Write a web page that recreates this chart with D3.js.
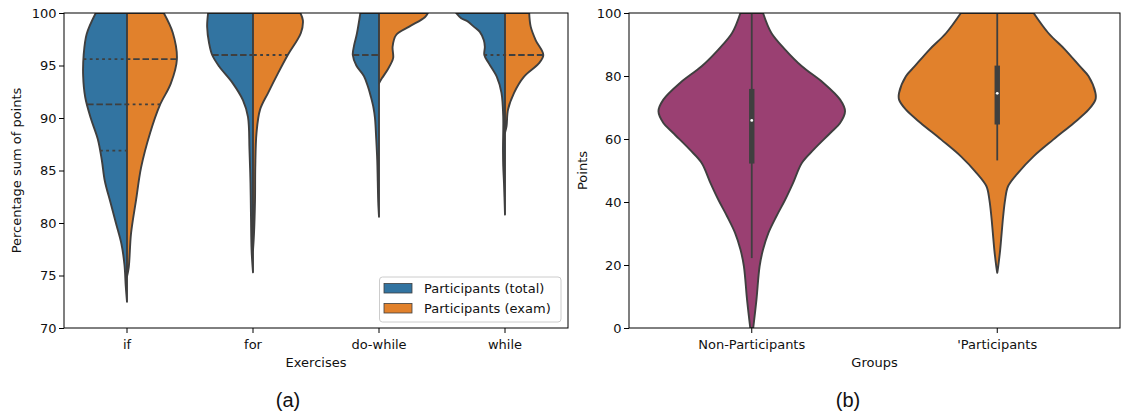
<!DOCTYPE html>
<html>
<head>
<meta charset="utf-8">
<script src="https://cdn.jsdelivr.net/npm/d3@7"></script>
<style>
  html, body { margin: 0; padding: 0; background: #fff; }
  svg { display: block; }
  text { font-family: "DejaVu Sans", sans-serif; fill: #111; }
</style>
</head>
<body>
<svg id="chart" width="1136" height="413"></svg>
<script>
// ---------------- DATA ----------------
const exercises = ["if", "for", "do-while", "while"];
const seriesNames = ["Participants (total)", "Participants (exam)"];
const leftTicks = [70, 75, 80, 85, 90, 95, 100];

// density profiles [value, relative density]
const ifTotal = [[100,0.62],[98,0.80],[96,0.86],[94,0.87],[92,0.83],[90,0.72],[88,0.58],[86,0.50],[84,0.44],[82,0.33],[80,0.22],[78,0.11],[76,0.05],[74,0.025],[72.5,0]];
const ifExam = [[100,0.73],[98.1,0.91],[95.6,0.99],[93.3,0.87],[91.2,0.65],[88.6,0.46],[85.3,0.28],[82.2,0.18],[79.0,0.08],[75.8,0.035],[74.9,0]];
const forTotal = [[100,0.89],[98.7,0.91],[97.1,0.87],[96.0,0.81],[94.9,0.67],[93.3,0.40],[91.7,0.20],[90.1,0.10],[87.0,0.07],[83.8,0.05],[80.6,0.04],[77.4,0.028],[75.3,0]];
const forExam = [[100,0.94],[99.3,0.99],[98.1,0.95],[96.0,0.69],[94.3,0.50],[92.4,0.30],[90.8,0.14],[88.6,0.07],[85.3,0.045],[82.2,0.04],[79.0,0.02],[77.4,0]];
const doWhileTotal = [[100,0.37],[98,0.44],[97,0.49],[96,0.52],[95,0.45],[94,0.30],[93,0.22],[92,0.16],[91,0.11],[90,0.08],[88,0.055],[86,0.035],[84,0.025],[82,0.015],[80.6,0]];
const doWhileExam = [[100,0.97],[99.6,0.91],[98.7,0.60],[97.9,0.34],[96.8,0.27],[95.7,0.28],[94.6,0.17],[93.8,0.06],[93.3,0]];
const whileTotal = [[100,0.97],[99.5,0.87],[99.2,0.74],[98.7,0.62],[98.2,0.50],[97.4,0.42],[96.8,0.40],[96.0,0.41],[95.2,0.32],[93.9,0.16],[92.4,0.07],[90.1,0.035],[87.0,0.04],[85.4,0.035],[83.8,0.02],[80.8,0]];
const whileExam = [[100,0.48],[98.7,0.51],[97.4,0.61],[96.0,0.76],[95.2,0.67],[93.9,0.37],[92.4,0.18],[90.8,0.06],[89.2,0.03],[88.6,0]];

const totalDensities = [ifTotal, forTotal, doWhileTotal, whileTotal];
const examDensities = [ifExam, forExam, doWhileExam, whileExam];
// quartiles [q1, median, q3]
const totalQuartiles = [[86.9,91.3,95.6],[96,96,100],[96,96,100],[96,100,100]];
const examQuartiles = [[91.3,95.6,100],[96,100,100],[100,100,100],[96,96,100]];

const groups = ["Non-Participants", "'Participants"];
const rightTicks = [0, 20, 40, 60, 80, 100];
const nonPartDensity = [[100,0.115],[93.65,0.20],[88.4,0.34],[83.1,0.51],[77.8,0.73],[72.5,0.90],[68.8,0.95],[65.1,0.90],[61.9,0.80],[56.6,0.63],[52.4,0.51],[46.0,0.42],[40.7,0.34],[35.4,0.25],[30.2,0.17],[24.9,0.115],[19.6,0.08],[9.0,0.048],[0,0.015]];
const partDensity = [[100,0.37],[93.65,0.52],[88.4,0.69],[83.1,0.84],[79.9,0.93],[74.6,1.0],[72.5,1.0],[69.3,0.93],[65.1,0.78],[59.8,0.57],[54.5,0.37],[49.2,0.21],[45.0,0.11],[40.7,0.08],[35.4,0.06],[30.2,0.045],[24.9,0.03],[19.6,0.01],[17.5,0]];
const groupDensities = [nonPartDensity, partDensity];
// [whiskerLow, q1, median, q3, whiskerHigh]
const groupBoxes = [[22.2,52.2,65.9,75.9,100],[53.2,64.6,74.5,83.3,100]];

// ---------------- STYLE ----------------
const seriesColors = ["#3274a1", "#e1812c"];
const groupColors = ["#9a4072", "#e1812c"];
const edge = "#3f3f3f";
const curve = d3.curveCatmullRom.alpha(0.5);

const svg = d3.select("#chart");

function densityAt(arr, v) {
  for (let i = 0; i < arr.length - 1; i++) {
    const [v0, d0] = arr[i], [v1, d1] = arr[i + 1];
    if (v <= v0 && v >= v1) {
      if (v0 === v1) return d0;
      return d0 + (d1 - d0) * (v0 - v) / (v0 - v1);
    }
  }
  return 0;
}

// ---------------- LEFT PANEL ----------------
const L = {x0: 64, x1: 568, y0: 13, y1: 328};
const xL = d3.scaleBand().domain(exercises).range([L.x0, L.x1]);
const yL = d3.scaleLinear().domain([70, 100]).range([L.y1, L.y0]);
const wL = d3.scaleLinear().domain([0, 1]).range([0, xL.bandwidth() * 0.4]);

svg.append("clipPath").attr("id", "clipL").append("rect")
  .attr("x", L.x0).attr("y", L.y0).attr("width", L.x1 - L.x0).attr("height", L.y1 - L.y0);

const gL = svg.append("g").attr("clip-path", "url(#clipL)");

exercises.forEach((ex, i) => {
  const c = xL(ex) + xL.bandwidth() / 2;
  [totalDensities[i], examDensities[i]].forEach((dens, s) => {
    const sign = s === 0 ? -1 : 1;
    const area = d3.area()
      .y(d => yL(d[0]))
      .x0(c)
      .x1(d => c + sign * wL(d[1]))
      .curve(curve);
    gL.append("path").attr("d", area(dens))
      .attr("fill", seriesColors[s]).attr("stroke", edge)
      .attr("stroke-width", 1.9).attr("stroke-linejoin", "round");
  });
  // quartile lines
  [totalQuartiles[i], examQuartiles[i]].forEach((q, s) => {
    const dens = s === 0 ? totalDensities[i] : examDensities[i];
    const sign = s === 0 ? -1 : 1;
    q.forEach((v, k) => {
      if (k !== 1 && v === q[1]) return;
      const w = wL(densityAt(dens, v));
      gL.append("line")
        .attr("x1", c + sign * w).attr("x2", c)
        .attr("y1", yL(v)).attr("y2", yL(v))
        .attr("stroke", edge).attr("stroke-width", 1.8)
        .attr("stroke-dasharray", k === 1 ? "6.5,2.8" : "2.8,3.4");
    });
  });
});

// frame
svg.append("rect").attr("x", L.x0).attr("y", L.y0)
  .attr("width", L.x1 - L.x0).attr("height", L.y1 - L.y0)
  .attr("fill", "none").attr("stroke", "#000").attr("stroke-width", 1);

const axLy = svg.append("g").attr("transform", `translate(${L.x0},0)`)
  .call(d3.axisLeft(yL).tickValues(leftTicks).tickSize(5).tickPadding(2.5).tickSizeOuter(0));
const axLx = svg.append("g").attr("transform", `translate(0,${L.y1})`)
  .call(d3.axisBottom(xL).tickSize(5).tickPadding(6.5).tickSizeOuter(0));

[axLy, axLx].forEach(a => {
  a.select(".domain").remove();
  a.selectAll("text").style("font-family", "DejaVu Sans, sans-serif").style("font-size", "13px").attr("fill", "#111");
  a.selectAll("line").attr("stroke", "#000");
});

svg.append("text").attr("transform", `translate(16,${(L.y0 + L.y1) / 2}) rotate(-90)`)
  .attr("text-anchor", "middle").attr("dy", "0.35em").style("font-size", "13px")
  .text("Percentage sum of points");
svg.append("text").attr("x", (L.x0 + L.x1) / 2).attr("y", 367)
  .attr("text-anchor", "middle").style("font-size", "13px").text("Exercises");
svg.append("text").attr("x", 288).attr("y", 407)
  .attr("text-anchor", "middle").style("font-family", "Liberation Sans, Arial, sans-serif")
  .style("font-size", "20px").text("(a)");

// legend
const leg = svg.append("g");
leg.append("rect").attr("x", 379.5).attr("y", 277).attr("width", 181.5).attr("height", 45)
  .attr("rx", 3).attr("fill", "#fff").attr("fill-opacity", 0.8)
  .attr("stroke", "#cccccc").attr("stroke-width", 1);
seriesNames.forEach((n, i) => {
  leg.append("rect").attr("x", 384).attr("y", 283.5 + i * 20).attr("width", 28).attr("height", 9.5)
    .attr("fill", seriesColors[i]).attr("stroke", edge).attr("stroke-width", 0.8);
  leg.append("text").attr("x", 424).attr("y", 293 + i * 20)
    .style("font-size", "13px").text(n);
});

// ---------------- RIGHT PANEL ----------------
const R = {x0: 629, x1: 1120, y0: 13, y1: 328};
const xR = d3.scaleBand().domain(groups).range([R.x0, R.x1]);
const yR = d3.scaleLinear().domain([0, 100]).range([R.y1, R.y0]);
const wR = d3.scaleLinear().domain([0, 1]).range([0, xR.bandwidth() * 0.4]);

svg.append("clipPath").attr("id", "clipR").append("rect")
  .attr("x", R.x0).attr("y", R.y0).attr("width", R.x1 - R.x0).attr("height", R.y1 - R.y0);
const gR = svg.append("g").attr("clip-path", "url(#clipR)");

groups.forEach((g, i) => {
  const c = xR(g) + xR.bandwidth() / 2;
  const area = d3.area()
    .y(d => yR(d[0]))
    .x0(d => c - wR(d[1]))
    .x1(d => c + wR(d[1]))
    .curve(curve);
  gR.append("path").attr("d", area(groupDensities[i]))
    .attr("fill", groupColors[i]).attr("stroke", edge)
    .attr("stroke-width", 1.9).attr("stroke-linejoin", "round");
  const [wlo, q1, med, q3, whi] = groupBoxes[i];
  gR.append("line").attr("x1", c).attr("x2", c)
    .attr("y1", yR(wlo)).attr("y2", yR(whi))
    .attr("stroke", edge).attr("stroke-width", 1.8);
  gR.append("rect").attr("x", c - 2.7).attr("width", 5.4)
    .attr("y", yR(q3)).attr("height", yR(q1) - yR(q3))
    .attr("fill", edge);
  gR.append("circle").attr("cx", c).attr("cy", yR(med)).attr("r", 1.4).attr("fill", "#fff");
});

svg.append("rect").attr("x", R.x0).attr("y", R.y0)
  .attr("width", R.x1 - R.x0).attr("height", R.y1 - R.y0)
  .attr("fill", "none").attr("stroke", "#000").attr("stroke-width", 1);

const axRy = svg.append("g").attr("transform", `translate(${R.x0},0)`)
  .call(d3.axisLeft(yR).tickValues(rightTicks).tickSize(5).tickPadding(2.5).tickSizeOuter(0));
const axRx = svg.append("g").attr("transform", `translate(0,${R.y1})`)
  .call(d3.axisBottom(xR).tickSize(5).tickPadding(6.5).tickSizeOuter(0));
[axRy, axRx].forEach(a => {
  a.select(".domain").remove();
  a.selectAll("text").style("font-family", "DejaVu Sans, sans-serif").style("font-size", "13px").attr("fill", "#111");
  a.selectAll("line").attr("stroke", "#000");
});

svg.append("text").attr("transform", `translate(582,${(R.y0 + R.y1) / 2}) rotate(-90)`)
  .attr("text-anchor", "middle").attr("dy", "0.35em").style("font-size", "13px").text("Points");
svg.append("text").attr("x", (R.x0 + R.x1) / 2).attr("y", 367)
  .attr("text-anchor", "middle").style("font-size", "13px").text("Groups");
svg.append("text").attr("x", 848).attr("y", 407)
  .attr("text-anchor", "middle").style("font-family", "Liberation Sans, Arial, sans-serif")
  .style("font-size", "20px").text("(b)");
</script>
</body>
</html>
